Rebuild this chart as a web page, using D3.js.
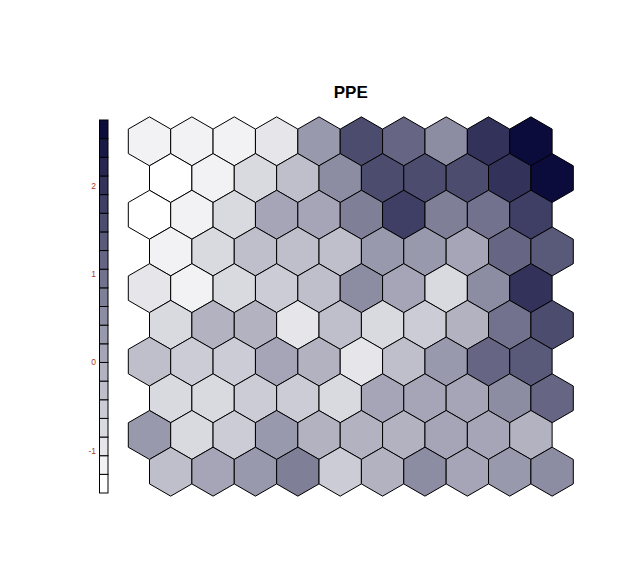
<!DOCTYPE html>
<html>
<head>
<meta charset="utf-8">
<script src="https://cdn.jsdelivr.net/npm/d3@7"></script>
<style>
  html, body { margin: 0; padding: 0; background: #fff; }
  svg { display: block; }
</style>
</head>
<body>
<svg id="chart" width="626" height="575"></svg>
<script>
// SOM property map "PPE": 10 x 10 hexagonal grid, rows listed from top to bottom
const title = "PPE";
const row10 = [-1.16, -1.16, -1.16, -0.95, 0.32, 1.59, 1.17, 0.53, 2.01, 2.70];
const row9  = [-1.48, -1.16, -0.74, -0.31, 0.53, 1.59, 1.59, 1.59, 2.01, 2.75];
const row8  = [-1.40, -1.16, -0.74, 0.11, 0.11, 0.74, 1.80, 0.74, 0.96, 1.80];
const row7  = [-1.16, -0.74, -0.31, -0.31, -0.31, 0.32, 0.32, 0.11, 1.17, 1.38];
const row6  = [-0.95, -1.16, -0.74, -0.53, -0.31, 0.53, 0.11, -0.74, 0.53, 2.01];
const row5  = [-0.74, -0.10, -0.10, -0.95, -0.31, -0.74, -0.53, -0.10, 0.96, 1.59];
const row4  = [-0.31, -0.53, -0.53, 0.11, -0.10, -0.95, -0.31, 0.32, 1.17, 1.38];
const row3  = [-0.74, -0.74, -0.53, -0.53, -0.74, 0.11, 0.11, 0.11, 0.53, 1.17];
const row2  = [0.32, -0.74, -0.53, 0.32, -0.10, -0.10, -0.10, 0.11, 0.11, -0.10];
const row1  = [-0.31, 0.11, 0.32, 0.74, -0.53, -0.10, 0.53, 0.11, 0.32, 0.53];
const gridRows = [row10, row9, row8, row7, row6, row5, row4, row3, row2, row1];
const legendTicks = [-1, 0, 1, 2];
const nColors = 20;

const svg = d3.select("#chart");

// colour palette: white -> dark navy, 20 steps
const interp = d3.interpolateRgb("#ffffff", "#0c0c3c");
const palette = d3.range(nColors).map(i => interp(i / (nColors - 1)));
const allVals = gridRows.flat();
const domain = d3.extent(allVals);
const colour = d3.scaleQuantize().domain(domain).range(palette);

// hex grid geometry
const nCols = 10, nRows = 10;
const spacing = 42.38;
const radius = spacing / Math.sqrt(3);
const x = d3.scaleLinear().domain([0, nCols - 0.5]).range([149.5, 149.5 + spacing * (nCols - 0.5)]);
const rowStep = spacing * Math.sqrt(3) / 2;
const y = d3.scaleLinear().domain([0, nRows - 1]).range([306.5 - rowStep * 4.5, 306.5 + rowStep * 4.5]);

const cells = [];
gridRows.forEach((row, r) => {
  row.forEach((v, c) => {
    cells.push({ r, c, v, gx: c + (r % 2) * 0.5 });
  });
});

function hexPath(cx, cy) {
  const pts = d3.range(6).map(k => {
    const a = Math.PI / 180 * (30 + 60 * k);
    return [cx + radius * Math.cos(a), cy + radius * Math.sin(a)];
  });
  return "M" + pts.map(p => p.join(",")).join("L") + "Z";
}

svg.append("g")
  .selectAll("path")
  .data(cells)
  .join("path")
  .attr("d", d => hexPath(x(d.gx), y(d.r)))
  .attr("fill", d => colour(d.v))
  .attr("stroke", "#000")
  .attr("stroke-width", 1);

// title
svg.append("text")
  .attr("x", 350.8)
  .attr("y", 98.3)
  .attr("text-anchor", "middle")
  .attr("font-family", "Liberation Sans, Arial, sans-serif")
  .attr("font-weight", "bold")
  .attr("font-size", 17)
  .text(title);

// colour key
const legY = d3.scaleLinear().domain(domain).range([493, 120]);
const binW = (domain[1] - domain[0]) / nColors;
const key = svg.append("g");
key.selectAll("rect")
  .data(palette)
  .join("rect")
  .attr("x", 99.5)
  .attr("width", 8.5)
  .attr("y", (d, i) => legY(domain[0] + (i + 1) * binW))
  .attr("height", (d, i) => legY(domain[0] + i * binW) - legY(domain[0] + (i + 1) * binW))
  .attr("fill", d => d)
  .attr("stroke", "#000")
  .attr("stroke-width", 1);

key.selectAll("text")
  .data(legendTicks)
  .join("text")
  .attr("x", 96)
  .attr("y", d => legY(d) + 3)
  .attr("text-anchor", "end")
  .attr("font-family", "Liberation Sans, Arial, sans-serif")
  .attr("font-size", 8.5)
  .attr("fill", "#a8401e")
  .text(d => d);
</script>
</body>
</html>
